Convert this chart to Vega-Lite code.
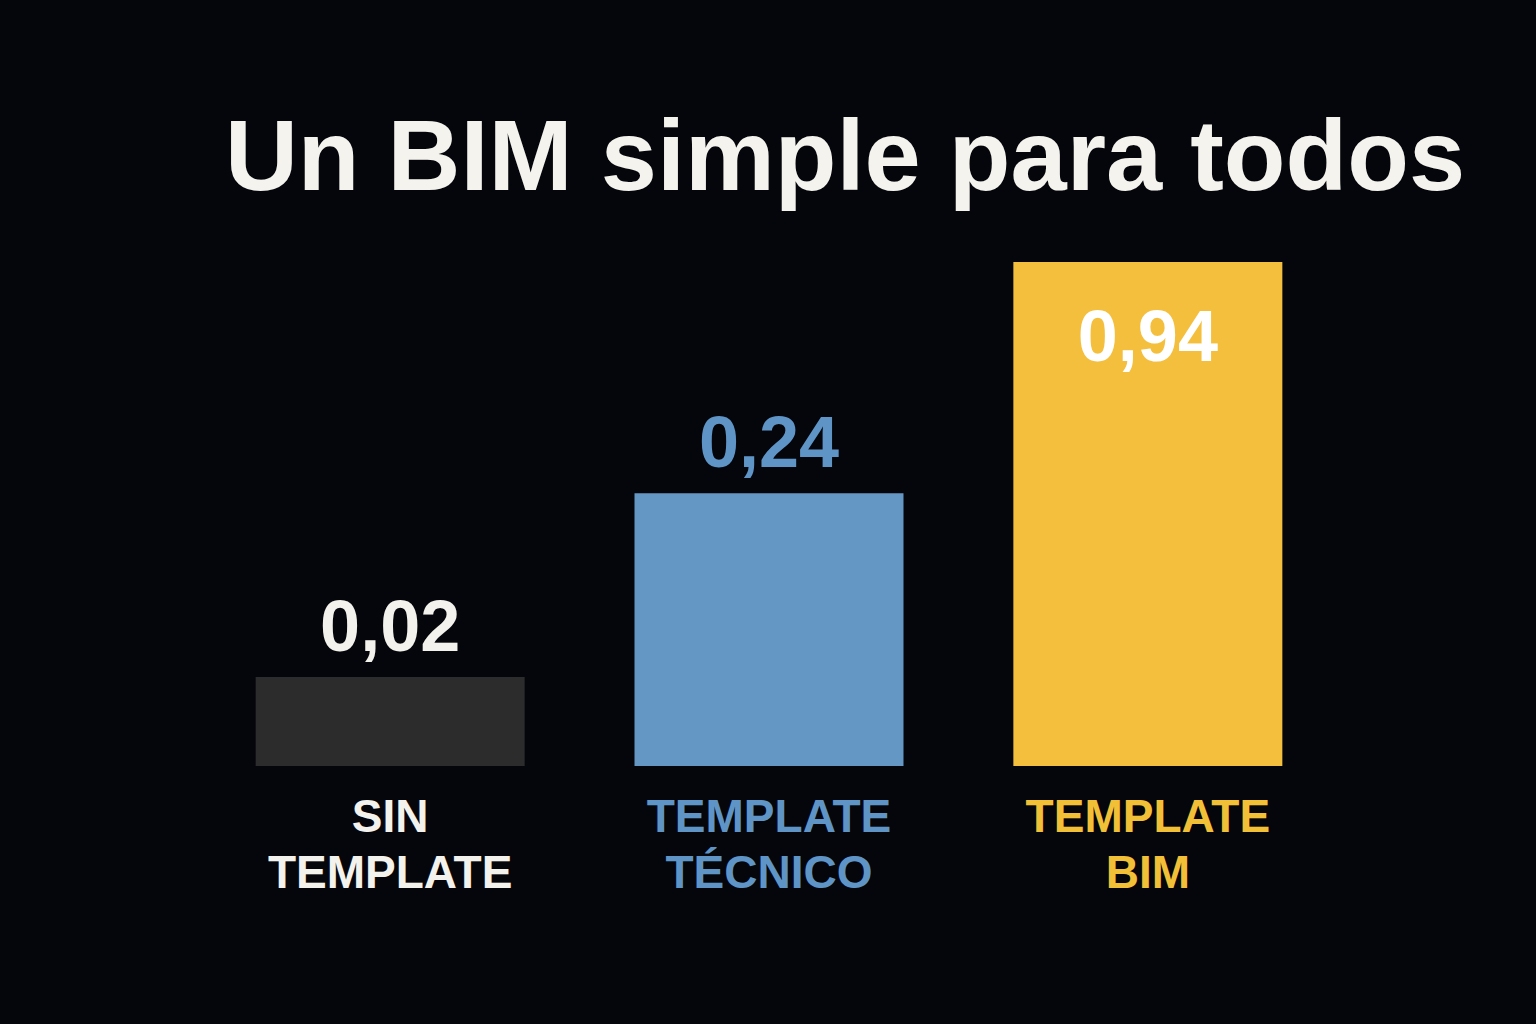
{
  "$schema": "https://vega.github.io/schema/vega-lite/v6.json",
  "autosize": "none",
  "width": 1254,
  "height": 504,
  "padding": {"left": 142, "right": 140, "top": 262, "bottom": 258},
  "background": "#05060b",
  "config": {
    "view": {"stroke": null},
    "locale": {"number": {"decimal": ",", "thousands": ".", "grouping": [3], "currency": ["", " €"]}},
    "font": "Liberation Sans"
  },
  "title": {
    "text": "Un BIM simple para todos",
    "anchor": "middle",
    "frame": "group",
    "baseline": "alphabetic",
    "offset": -29,
    "dx": 76,
    "fontSize": 101,
    "font": "Liberation Sans",
    "fontWeight": "bold",
    "color": "#f5f3ee"
  },
  "data": {
    "values": [
      {"categoria": "SIN TEMPLATE", "valor": 0.02},
      {"categoria": "TEMPLATE TÉCNICO", "valor": 0.24},
      {"categoria": "TEMPLATE BIM", "valor": 0.94}
    ]
  },
  "encoding": {
    "x": {
      "field": "categoria",
      "type": "nominal",
      "sort": null,
      "axis": null,
      "scale": {"paddingInner": 0.29, "paddingOuter": 0.3}
    }
  },
  "layer": [
    {
      "mark": {"type": "bar"},
      "encoding": {
        "y": {"field": "valor", "type": "quantitative", "axis": null, "scale": {"type": "pow", "exponent": 0.45, "domain": [0, 0.94], "nice": false}},
        "color": {
          "field": "categoria", "type": "nominal", "legend": null,
          "scale": {"domain": ["SIN TEMPLATE", "TEMPLATE TÉCNICO", "TEMPLATE BIM"], "range": ["#2c2c2c", "#6497c3", "#f5bf3e"]}
        }
      }
    },
    {
      "transform": [{"filter": "datum.categoria !== 'TEMPLATE BIM'"}],
      "mark": {"type": "text", "fontSize": 72, "fontWeight": "bold", "baseline": "alphabetic", "align": "center", "dy": -26},
      "encoding": {
        "y": {"field": "valor", "type": "quantitative"},
        "text": {"field": "valor", "type": "quantitative", "format": ".2f"},
        "color": {
          "field": "categoria", "type": "nominal", "legend": null,
          "scale": {"domain": ["SIN TEMPLATE", "TEMPLATE TÉCNICO"], "range": ["#f4f2ec", "#5f95c6"]}
        }
      }
    },
    {
      "transform": [{"filter": "datum.categoria === 'TEMPLATE BIM'"}],
      "mark": {"type": "text", "fontSize": 72, "fontWeight": "bold", "baseline": "alphabetic", "align": "center", "dy": 99, "color": "#ffffff"},
      "encoding": {
        "y": {"field": "valor", "type": "quantitative"},
        "text": {"field": "valor", "type": "quantitative", "format": ".2f"}
      }
    },
    {
      "mark": {"type": "text", "fontSize": 46, "fontWeight": "bold", "baseline": "alphabetic", "align": "center", "dy": 66, "lineBreak": " ", "lineHeight": 56},
      "encoding": {
        "y": {"datum": 0, "type": "quantitative"},
        "text": {"field": "categoria", "type": "nominal"},
        "color": {
          "field": "categoria", "type": "nominal", "legend": null,
          "scale": {"domain": ["SIN TEMPLATE", "TEMPLATE TÉCNICO", "TEMPLATE BIM"], "range": ["#f4f2ec", "#5f95c6", "#f2c037"]}
        }
      }
    }
  ],
  "resolve": {"scale": {"color": "independent"}}
}
